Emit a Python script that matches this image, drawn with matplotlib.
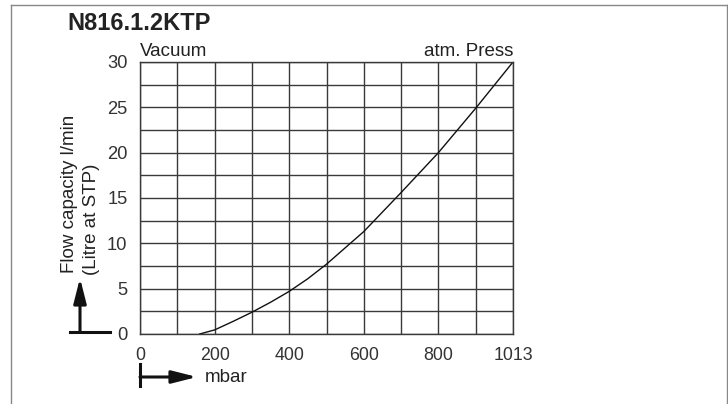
import matplotlib
matplotlib.use('Agg')
from matplotlib import pyplot as plt
from matplotlib.lines import Line2D
from matplotlib.patches import FancyArrowPatch
from matplotlib.ticker import MultipleLocator

plt.rcParams['font.family'] = ['Liberation Sans', 'DejaVu Sans']

# flow curve
pressure = [160, 200, 250, 300, 350, 400, 450, 500, 600, 700, 800, 900, 1000]
flow = [0.0, 0.45, 1.4, 2.4, 3.5, 4.7, 6.1, 7.7, 11.3, 15.6, 20.0, 24.9, 30.0]

x_ticks = [0, 200, 400, 600, 800, 1000]
x_tick_labels = ['0', '200', '400', '600', '800', '1013']
y_ticks = [0, 5, 10, 15, 20, 25, 30]

W, H = 728, 404
fig = plt.figure(figsize=(W / 100, H / 100), dpi=100)
ax = fig.add_axes([140 / W, 1 - 334 / H, (513 - 140) / W, (334 - 62) / H])

ax.plot(pressure, flow, '-', color='#111111', lw=1.0)
ax.set_xlim(0, 1000)
ax.set_ylim(0, 30)
ax.set_xticks(x_ticks)
ax.set_xticklabels(x_tick_labels)
ax.set_yticks(y_ticks)
ax.xaxis.set_minor_locator(MultipleLocator(100))
ax.yaxis.set_minor_locator(MultipleLocator(2.5))
ax.grid(True, which='both', color='#3a3a3a', lw=1.0)
ax.tick_params(which='both', length=0)
ax.tick_params(axis='x', pad=9, labelsize=12.8, labelcolor='#333333')
ax.tick_params(axis='y', pad=9, labelsize=13.2, labelcolor='#333333')
for s in ax.spines.values():
    s.set_color('#3a3a3a')
    s.set_linewidth(1.0)

ax.text(0, 1.008, 'Vacuum', transform=ax.transAxes, ha='left', va='bottom', fontsize=13.5, color='#222222')
ax.text(1, 1.008, 'atm. Press', transform=ax.transAxes, ha='right', va='bottom', fontsize=13.5, color='#222222')

fig.text(67 / W, 1 - 24 / H, 'N816.1.2KTP', ha='left', va='center', fontsize=17, fontweight='bold', color='#222222')

fig.text(69 / W, 1 - 273 / H, 'Flow capacity l/min', rotation=90, ha='center', va='bottom', fontsize=13.5, color='#222222')
fig.text(91 / W, 1 - 275 / H, '(Litre at STP)', rotation=90, ha='center', va='bottom', fontsize=13.5, color='#222222')
fig.text(205 / W, 1 - 378 / H, 'mbar', ha='left', va='center', fontsize=13.5, color='#222222')


# arrows next to the axis titles
def px(x, y):
    return x / W, 1 - y / H


fig.add_artist(Line2D([70 / W, 110 / W], [1 - 332 / H, 1 - 332 / H], color='#111111', lw=2.2))
fig.add_artist(Line2D([140 / W, 140 / W], [1 - 364 / H, 1 - 386 / H], color='#111111', lw=2.2))
arrow = dict(arrowstyle='-|>,head_length=1.5,head_width=0.38', mutation_scale=10,
             color='#111111', lw=2.2, shrinkA=0, shrinkB=0)
fig.add_artist(FancyArrowPatch(px(80, 332), px(80, 278), transform=fig.transFigure, **arrow))
fig.add_artist(FancyArrowPatch(px(140, 377), px(197, 377), transform=fig.transFigure, **arrow))

# outer frame
frame = dict(color='#888888', lw=1.0)
fig.add_artist(Line2D([11 / W, 11 / W], [0, 1 - 5 / H], **frame))
fig.add_artist(Line2D([11 / W, 727 / W], [1 - 5 / H, 1 - 5 / H], **frame))
fig.add_artist(Line2D([727 / W, 727 / W], [0, 1 - 5 / H], **frame))

plt.savefig('out.png', dpi=100)
plt.close()
